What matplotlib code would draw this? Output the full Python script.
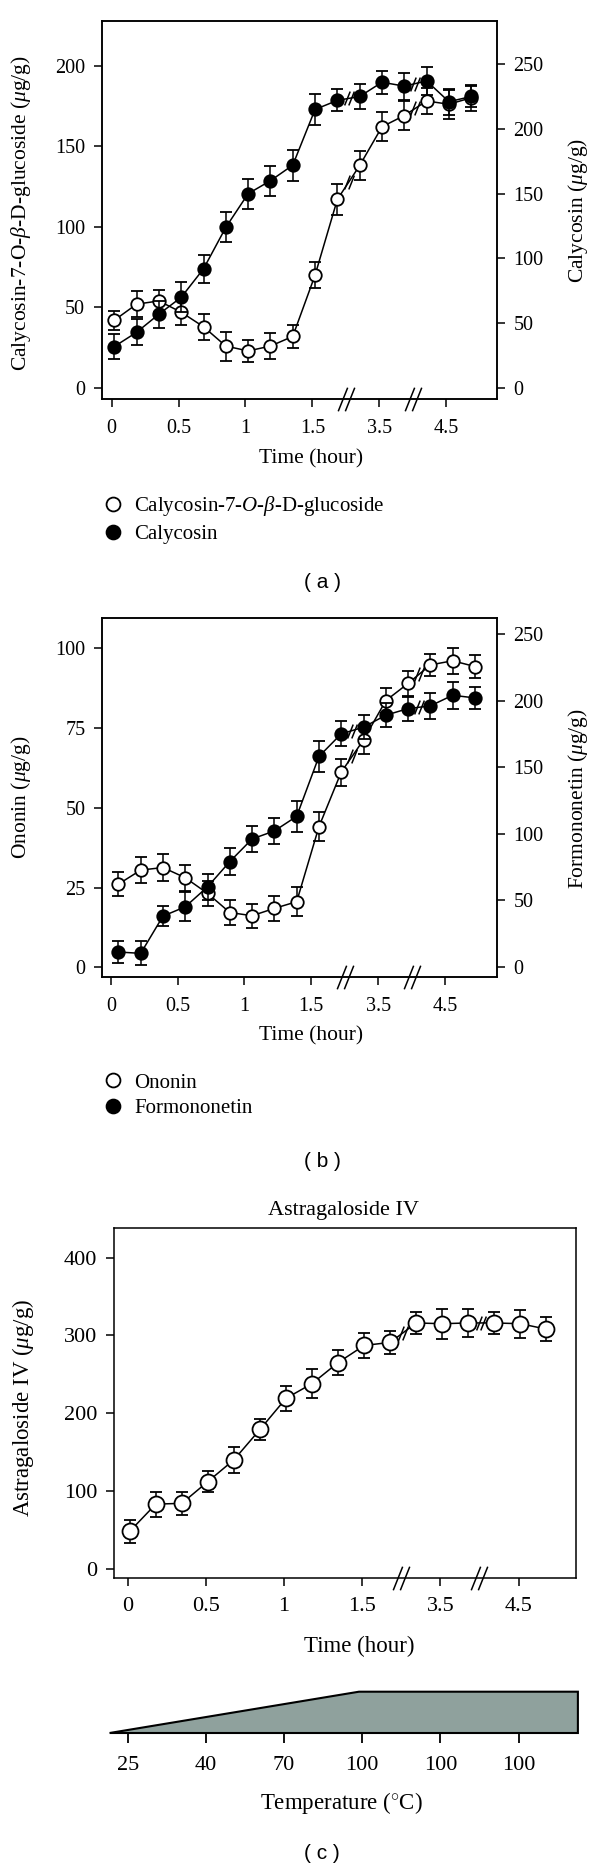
import numpy as np
import matplotlib
matplotlib.use("Agg")
import matplotlib.pyplot as plt
from matplotlib.lines import Line2D
from matplotlib.path import Path
from matplotlib.transforms import blended_transform_factory

plt.rcParams['font.family'] = ['Liberation Serif', 'DejaVu Serif']
plt.rcParams['mathtext.fontset'] = 'custom'
plt.rcParams['mathtext.rm'] = 'Liberation Serif'
plt.rcParams['mathtext.it'] = 'Liberation Serif:italic'
plt.rcParams['axes.linewidth'] = 1.1

# data
# ----

# samples every 10 min, time axis broken after 1.5 h (display position in hours)
t_pos = np.arange(17) / 6.0
tick_pos = [0, 0.5, 1, 1.5, 2, 2.5]
tick_lbl = ['0', '0.5', '1', '1.5', '3.5', '4.5']
break_pos = [1.75, 2.25]

c7g = [42, 52, 54, 47, 38, 26, 23, 26, 32, 70, 117, 138, 162, 169, 178, 176, 180]
c7g_err = [6, 8, 7, 8, 8, 9, 7, 8, 7, 8, 9.5, 9, 9, 9, 8, 9, 8]
calycosin = [32, 43, 57, 70, 92, 124, 150, 160, 172, 215, 222, 225, 236, 233, 237, 221, 225]
calycosin_err = [9.5, 10, 10.5, 11.5, 11, 11.5, 11.5, 11.5, 12, 12, 8.5, 10, 9, 10.5, 11, 10, 8]

ononin = [26.1, 30.5, 31.3, 28.1, 23.2, 17.2, 16.2, 18.5, 20.6, 44.1, 61.2, 71.3, 83.6, 89, 94.8, 96.1, 94.3]
ononin_err = [3.8, 4, 4.2, 4, 4, 3.8, 3.8, 4, 4.5, 4.5, 4.2, 4.5, 4, 4, 3.5, 4, 3.5]
formononetin = [11, 10, 38, 45, 60, 79, 96, 102, 113, 158, 175, 180, 189, 194, 196, 204, 202]
formononetin_err = [8.5, 9, 7.5, 11, 10, 10, 9.5, 9.5, 11.5, 11.5, 9.5, 9, 9, 9, 10, 10, 8]

astragaloside = [48, 83, 84, 112, 140, 179, 219, 238, 265, 287, 291, 316, 315, 316, 316, 315, 308]
astragaloside_err = [15, 16, 15, 14, 17, 14, 16, 19, 16, 16.5, 15, 14.5, 19.5, 18.5, 14, 18, 15]

temp_lbl = ['25', '40', '70', '100', '100', '100']
ramp_x = [-0.117, 1.479, 2.88, 2.88]
ramp_h = [0, 1, 1, 0]

# plot
# ----

W, H = 600, 1869
fig = plt.figure(figsize=(W / 100, H / 100), dpi=100)


def rect(l, t, r, b):
    return [l / W, 1 - b / H, (r - l) / W, (b - t) / H]


slash = Path([(-0.7, -1), (0.1, 1), (-0.1, -1), (0.7, 1)],
             [Path.MOVETO, Path.LINETO, Path.MOVETO, Path.LINETO])


def style(ax, size):
    ax.tick_params(direction='out', length=6, width=1.1, labelsize=size)
    ax.tick_params(axis='x', pad=8)
    ax.tick_params(axis='y', pad=6)


def series(ax, x, y, err, face, ms):
    ax.errorbar(x, y, yerr=err, fmt='-o', color='k', mfc=face, mec='k', ms=ms,
                mew=1.3, lw=1.1, elinewidth=1.1, capsize=4, capthick=1.1, zorder=3)
    for i in (10, 13):
        ax.plot((x[i] + x[i + 1]) / 2, (y[i] + y[i + 1]) / 2, marker=slash, ms=10,
                ls='none', mec='k', mfc='none', mew=1.1, zorder=4)


def time_axis(ax, xlim):
    ax.set_xlim(xlim)
    ax.set_xticks(tick_pos)
    ax.set_xticklabels(tick_lbl)
    tr = blended_transform_factory(ax.transData, ax.transAxes)
    ax.plot(break_pos, [0, 0], transform=tr, marker=slash, ms=17, ls='none',
            mec='k', mfc='none', mew=1.1, clip_on=False, zorder=6)


def legend(entries, x, y):
    handles = [Line2D([], [], marker='o', ls='none', ms=10, mew=1.3, mec='k', mfc=f)
               for f, _ in entries]
    fig.legend(handles, [l for _, l in entries], loc='upper left',
               bbox_to_anchor=(x / W, 1 - y / H), frameon=False, fontsize=15,
               handlelength=1.0, handletextpad=0.5, labelspacing=0.3,
               borderpad=0, borderaxespad=0)


# (a)
ax = fig.add_axes(rect(101.7, 20.7, 496.7, 399.3))
ax2 = ax.twinx()
x = t_pos + 0.02
series(ax, x, c7g, c7g_err, 'white', 9)
series(ax2, x, calycosin, calycosin_err, 'black', 9)
time_axis(ax, (-0.074, 2.877))
ax.set_ylim(-7, 227.8)
ax.set_yticks([0, 50, 100, 150, 200])
ax2.set_ylim(-8.7, 283.5)
ax2.set_yticks([0, 50, 100, 150, 200, 250])
style(ax, 14.5)
style(ax2, 14.5)
ax.set_ylabel(r'Calycosin-7-O-$\beta$-D-glucoside ($\mu$g/g)', fontsize=15.5)
ax.yaxis.set_label_coords(-0.175, 0.492)
ax2.set_ylabel(r'Calycosin ($\mu$g/g)', fontsize=15.5, rotation=90)
ax2.yaxis.set_label_coords(1.175, 0.5)
ax.set_xlabel('Time (hour)', fontsize=15.5)
ax.xaxis.label.set_verticalalignment('center')
ax.xaxis.set_label_coords(0.53, -0.158)
legend([('white', r'Calycosin-7-$O$-$\beta$-D-glucoside'), ('black', 'Calycosin')], 102.7, 494)
fig.text(322 / W, 1 - 582 / H, '( a )', ha='center', va='center', fontsize=15,
         family='Liberation Sans')

# (b)
ax = fig.add_axes(rect(102, 617.7, 496.6, 977.3))
ax2 = ax.twinx()
x = t_pos + 0.057
series(ax, x, ononin, ononin_err, 'white', 9)
series(ax2, x, formononetin, formononetin_err, 'black', 9)
time_axis(ax, (-0.066, 2.886))
ax.set_ylim(-3.1, 109.6)
ax.set_yticks([0, 25, 50, 75, 100])
ax2.set_ylim(-8, 262.3)
ax2.set_yticks([0, 50, 100, 150, 200, 250])
style(ax, 14.5)
style(ax2, 14.5)
ax.set_ylabel(r'Ononin ($\mu$g/g)', fontsize=15.5)
ax.yaxis.set_label_coords(-0.176, 0.5)
ax2.set_ylabel(r'Formononetin ($\mu$g/g)', fontsize=15.5, rotation=90)
ax2.yaxis.set_label_coords(1.176, 0.497)
ax.set_xlabel('Time (hour)', fontsize=15.5)
ax.xaxis.label.set_verticalalignment('center')
ax.xaxis.set_label_coords(0.53, -0.163)
legend([('white', 'Ononin'), ('black', 'Formononetin')], 102.7, 1073)
fig.text(322.8 / W, 1 - 1161.7 / H, '( b )', ha='center', va='center', fontsize=15,
         family='Liberation Sans')

# (c)
ax = fig.add_axes(rect(113.8, 1228.3, 575.7, 1578))
x = t_pos + 0.012
series(ax, x, astragaloside, astragaloside_err, 'white', 11.5)
time_axis(ax, (-0.09, 2.866))
ax.set_ylim(-12, 437.7)
ax.set_yticks([0, 100, 200, 300, 400])
style(ax, 16)
ax.set_ylabel(r'Astragaloside IV ($\mu$g/g)', fontsize=16.5)
ax.yaxis.set_label_coords(-0.168, 0.486)
ax.text(0.498, 1.052, 'Astragaloside IV', transform=ax.transAxes, ha='center',
        va='center', fontsize=16)
ax.set_xlabel('Time (hour)', fontsize=16.5)
ax.xaxis.label.set_verticalalignment('center')
ax.xaxis.set_label_coords(0.531, -0.196)

# temperature programme
axt = fig.add_axes(rect(113.8, 1691.7, 575.7, 1733))
axt.fill(ramp_x, ramp_h, facecolor='#8FA19D', edgecolor='k', lw=1.5, clip_on=False)
axt.set_xlim(-0.09, 2.866)
axt.set_ylim(0, 1)
for s in axt.spines.values():
    s.set_visible(False)
axt.set_yticks([])
axt.set_xticks(tick_pos)
axt.set_xticklabels(temp_lbl)
axt.tick_params(axis='x', direction='out', length=7.5, width=1.3, labelsize=16, pad=9)
axt.set_xlabel(r'Temperature ($^{\circ}$C)', fontsize=16.5)
axt.xaxis.label.set_verticalalignment('center')
axt.xaxis.set_label_coords(0.493, (1733 - 1803) / (1733 - 1691.7))
fig.text(322 / W, 1 - 1853 / H, '( c )', ha='center', va='center', fontsize=15,
         family='Liberation Sans')

plt.savefig('out.png', dpi=100)
plt.close()
